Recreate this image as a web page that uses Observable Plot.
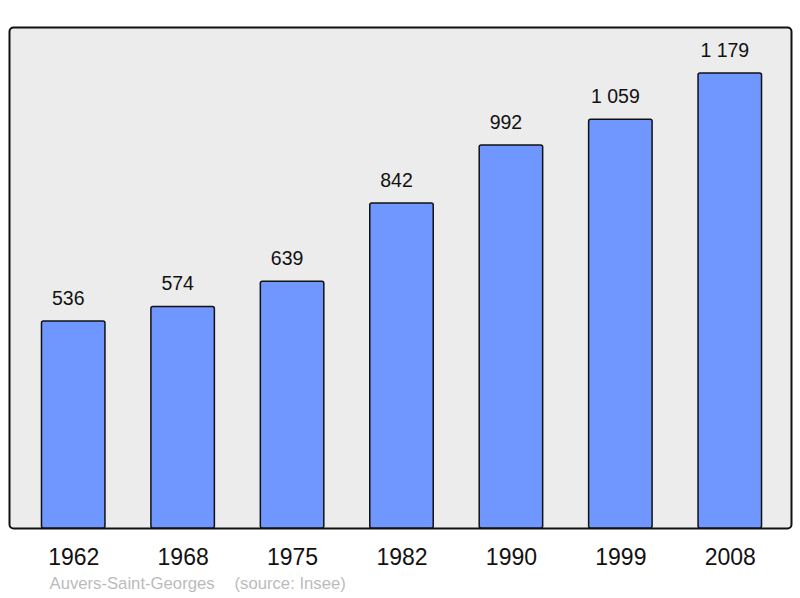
<!DOCTYPE html>
<html><head><meta charset="utf-8">
<script src="https://cdn.jsdelivr.net/npm/d3@7"></script>
<script src="https://cdn.jsdelivr.net/npm/@observablehq/plot@0.6"></script>
<style>body{margin:0;background:#fff;font-family:"Liberation Sans",Arial,sans-serif;}</style>
</head><body><div id="chart"></div>
<script>
const years = ["1962","1968","1975","1982","1990","1999","2008"];
const population = [536, 574, 639, 842, 992, 1059, 1179];
const labels = ["536", "574", "639", "842", "992", "1 059", "1 179"];
const captionName = ["Auvers-Saint-Georges"];
const captionSource = ["(source: Insee)"];

const data = years.map((y, i) => ({year: y, pop: population[i], label: labels[i]}));

const chart = Plot.plot({
  width: 800, height: 598,
  marginTop: 27, marginBottom: 70, marginLeft: 9, marginRight: 9,
  style: {fontFamily: "Liberation Sans, Arial, sans-serif", background: "#fff"},
  x: {domain: years, paddingInner: 0.42, paddingOuter: 0.21, insetLeft: 9.5, insetRight: 6.5, round: false, label: null},
  y: {domain: [0, 1298], axis: null},
  marks: [
    Plot.frame({fill: "#ececec", stroke: "#111", strokeWidth: 2, rx: 4}),
    Plot.barY(data, {x: "year", y: "pop", fill: "#7096ff", stroke: "#111", strokeWidth: 1.5, rx: 2}),
    Plot.text(data, {x: "year", y: "pop", text: "label", dy: -23, dx: -5.5, fontSize: 19.5, fill: "#111"}),
    Plot.axisX({tickSize: 0, tickPadding: 20, fontSize: 23, label: null, color: "#111"}),
    Plot.text(captionName, {frameAnchor: "bottom-left", text: d => d, dx: 40, dy: 60, fontSize: 16.7, fill: "#bbb", textAnchor: "start"}),
    Plot.text(captionSource, {frameAnchor: "bottom-left", text: d => d, dx: 225, dy: 60, fontSize: 16.7, fill: "#bbb", textAnchor: "start"})
  ]
});
document.getElementById("chart").append(chart);
</script></body></html>
